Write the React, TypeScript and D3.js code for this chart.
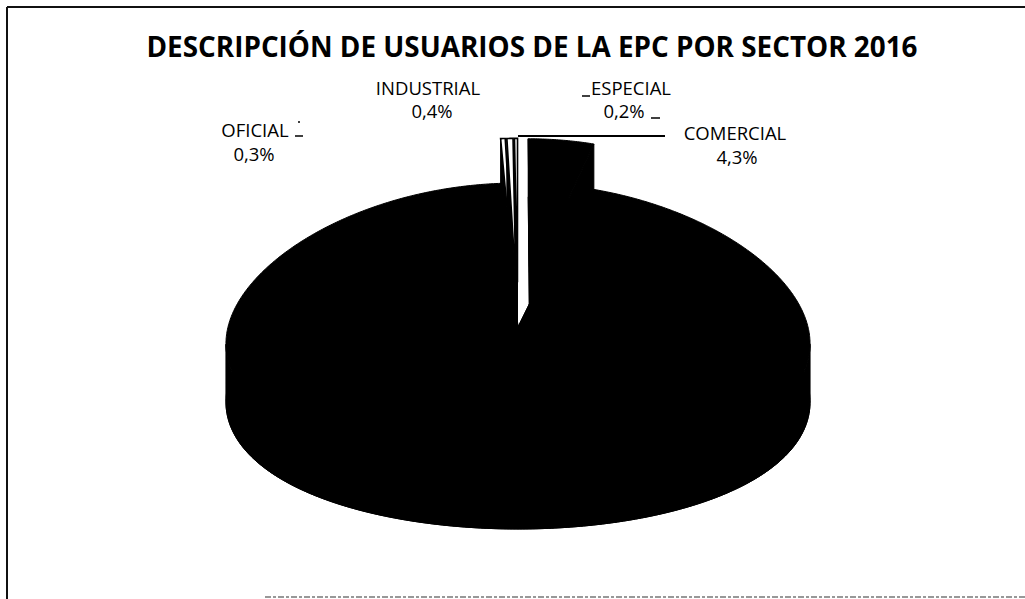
import React from "react";
import * as d3 from "d3";

const title = "DESCRIPCIÓN DE USUARIOS DE LA EPC POR SECTOR 2016";
const categories = ["OFICIAL", "INDUSTRIAL", "ESPECIAL", "COMERCIAL", "RESIDENCIAL"];
const values = [0.3, 0.4, 0.2, 4.3, 94.8];
const percentLabels = ["0,3%", "0,4%", "0,2%", "4,3%", "94,8%"];
const exploded = [true, true, true, true, false];
const topFills = ["#ffffff", "#ffffff", "#ffffff", "#000000", "#000000"];

// label layout (x center, baseline of name, baseline of value)
const labelPos: Record<string, { x: number; y: number; vx: number; vy: number } | null> = {
  OFICIAL: { x: 255, y: 137, vx: 254, vy: 161 },
  INDUSTRIAL: { x: 428, y: 95, vx: 432, vy: 118 },
  ESPECIAL: { x: 631, y: 95, vx: 624, vy: 118 },
  COMERCIAL: { x: 735, y: 140, vx: 737, vy: 164 },
  RESIDENCIAL: null,
};

const W = 1025;
const H = 599;
const cx = 518;
const cy = 327;
const rx = 290;
const ry = 144;
const depth = 58;
const explodeR = 0.31;
const persp = 0.12;

export default function App() {
  const total = d3.sum(values);
  const start = (-2 * Math.PI * d3.sum(values.slice(0, 3))) / total;
  const arcs = d3
    .pie<number>()
    .sort(null)
    .value((d) => d)
    .startAngle(start)
    .endAngle(start + 2 * Math.PI)(values);

  const line = d3.line<[number, number]>();

  // plane coords: px to the right, py to the back; simple perspective narrows the back
  const proj = (a: number, r: number, ex: number, ey: number, z: number): [number, number] => {
    const px = r * Math.sin(a) + ex;
    const py = r * Math.cos(a) + ey;
    const k = 1 - persp * py;
    return [cx + rx * px * k, cy - ry * py + z];
  };

  const arcPts = (a0: number, a1: number, ex: number, ey: number, z: number) => {
    const n = Math.max(4, Math.ceil(Math.abs(a1 - a0) / 0.01));
    return d3.range(n + 1).map((i) => proj(a0 + ((a1 - a0) * i) / n, 1, ex, ey, z));
  };

  // silhouette angles (widest points under the perspective)
  const sideA = Math.acos(-persp);
  const sideB = 2 * Math.PI - sideA;

  const slices = arcs.map((a, i) => {
    const mid = (a.startAngle + a.endAngle) / 2;
    const ex = exploded[i] ? explodeR * Math.sin(mid) : 0;
    const ey = exploded[i] ? explodeR * Math.cos(mid) : 0;
    const c0 = proj(0, 0, ex, ey, 0);
    const c1 = proj(0, 0, ex, ey, depth);
    const top = line([c0, ...arcPts(a.startAngle, a.endAngle, ex, ey, 0)]) + "Z";
    const bottom = line([c1, ...arcPts(a.startAngle, a.endAngle, ex, ey, depth)]) + "Z";
    const lo = Math.max(a.startAngle, sideA);
    const hi = Math.min(a.endAngle, sideB);
    const outer =
      lo < hi
        ? line([...arcPts(lo, hi, ex, ey, 0), ...arcPts(hi, lo, ex, ey, depth)]) + "Z"
        : null;
    const wall = (ang: number) =>
      line([c0, proj(ang, 1, ex, ey, 0), proj(ang, 1, ex, ey, depth), c1]) + "Z";
    return {
      key: categories[i],
      top,
      bottom,
      outer,
      w0: wall(a.startAngle),
      w1: wall(a.endAngle),
      fill: topFills[i],
      white: topFills[i] === "#ffffff",
    };
  });

  // residential drawn first, then the exploded back slices
  const order = [4, 3, 0, 1, 2];

  return (
    <svg
      width={W}
      height={H}
      style={{ position: "fixed", left: 0, top: 0, background: "#fff" }}
    >
      <rect x={0} y={0} width={W} height={H} fill="#fff" />
      {/* frame */}
      <line x1={7} y1={7} x2={W} y2={7} stroke="#111" strokeWidth={2} />
      <line x1={7} y1={7} x2={7} y2={H} stroke="#111" strokeWidth={2} />
      <line x1={265} y1={597} x2={W} y2={597} stroke="#333" strokeWidth={1.2} strokeDasharray="6 2 3 2" />

      <text
        x={532}
        y={57}
        textAnchor="middle"
        fontFamily="'Open Sans', sans-serif"
        fontWeight={700}
        fontSize={28}
        textLength={771}
        lengthAdjust="spacingAndGlyphs"
        fill="#000"
      >
        {title}
      </text>

      {order.map((i) => {
        const s = slices[i];
        return (
          <g key={s.key}>
            <path d={s.bottom} fill="#000" stroke="#000" strokeWidth={1} />
            <path d={s.w0} fill="#000" stroke="#000" strokeWidth={1} />
            <path d={s.w1} fill="#000" stroke="#000" strokeWidth={1} />
            {s.outer && <path d={s.outer} fill="#000" stroke="#000" strokeWidth={1} />}
            <path
              d={s.top}
              fill={s.fill}
              stroke="#000"
              strokeWidth={s.white ? 1.6 : 1}
              strokeLinejoin="miter"
            />
          </g>
        );
      })}

      {/* leader lines */}
      <line x1={518} y1={136} x2={665} y2={136} stroke="#000" strokeWidth={2} />
      <line x1={582} y1={96} x2={590} y2={96} stroke="#000" strokeWidth={1.5} />
      <line x1={651} y1={118} x2={660} y2={118} stroke="#000" strokeWidth={1.5} />
      <line x1={295} y1={136} x2={303} y2={136} stroke="#000" strokeWidth={1.5} />
      <circle cx={299} cy={122} r={1} fill="#000" />

      {categories.map((c, i) => {
        const p = labelPos[c];
        if (!p) return null;
        return (
          <g key={c} fontFamily="'Open Sans', sans-serif" fontSize={18.5} fill="#000" textAnchor="middle">
            <text x={p.x} y={p.y}>{c}</text>
            <text x={p.vx} y={p.vy}>{percentLabels[i]}</text>
          </g>
        );
      })}
    </svg>
  );
}
